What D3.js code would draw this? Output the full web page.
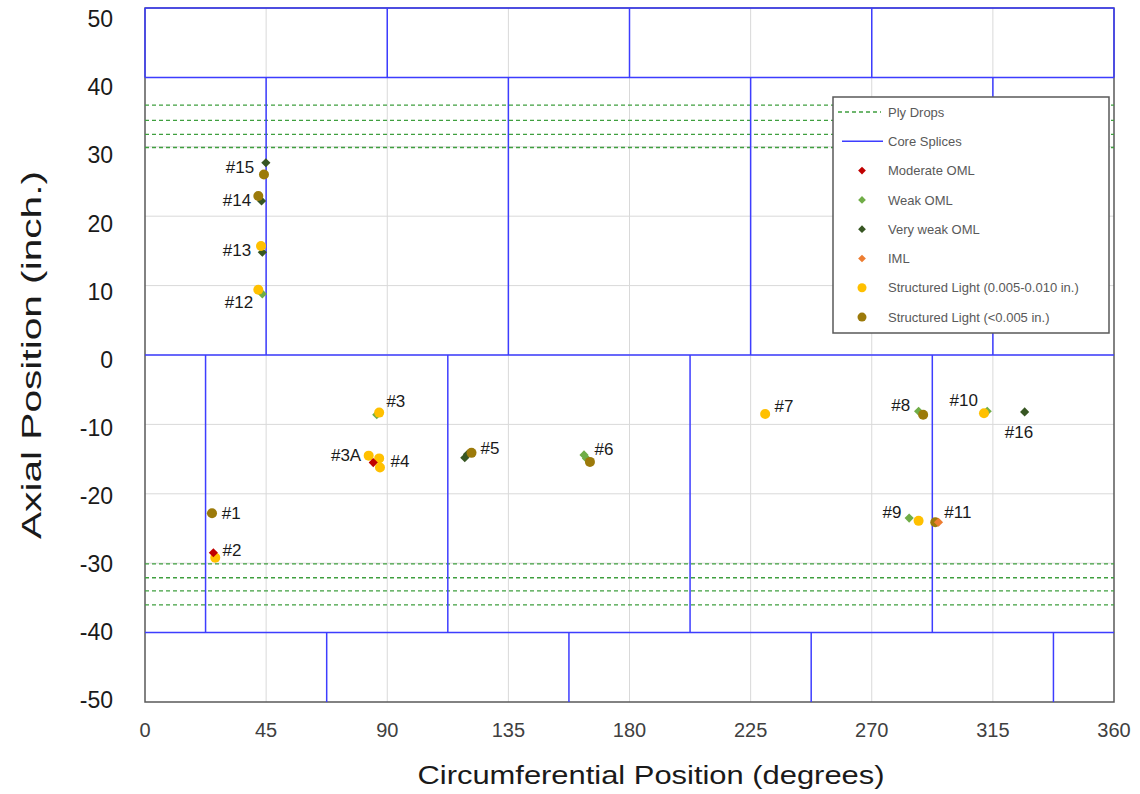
<!DOCTYPE html>
<html>
<head>
<meta charset="utf-8">
<script src="https://cdn.jsdelivr.net/npm/d3@7"></script>
<style>
  html, body { margin: 0; padding: 0; background: #fff; }
  svg { display: block; font-family: "Liberation Sans", Arial, sans-serif; }
</style>
</head>
<body>
<svg id="chart" width="1140" height="794"></svg>
<script>
// ---------- data ----------
const xTicks = [0, 45, 90, 135, 180, 225, 270, 315, 360];
const yTicks = [50, 40, 30, 20, 10, 0, -10, -20, -30, -40, -50];

const plyDrops = [36, 33.8, 31.8, 29.9, -30.1, -32.1, -34, -36];
const spliceAxial = [50, 40, 0, -40];
const spliceTopX = [0, 90, 180, 270, 360];       // 40..50
const spliceUpperX = [45, 135, 225, 315];        // 0..40
const spliceLowerX = [22.5, 112.5, 202.5, 292.5]; // -40..0
const spliceBottomX = [67.5, 157.5, 247.5, 337.5]; // -50..-40

const moderateOML = [[25.4, -28.5], [84.8, -15.5]];
const weakOML = [[43.6, 8.8], [24.5, -22.8], [86.1, -8.6], [163.1, -14.4], [164.0, -14.9], [287.4, -8.1], [312.9, -8.1], [283.9, -23.5]];
const veryWeakOML = [[44.9, 27.7], [43.3, 22.2], [43.6, 14.8], [118.8, -14.8], [119.8, -14.3], [326.8, -8.2]];
const imlPts = [[294.8, -24.1]];
const slMid = [[43.1, 15.7], [42.1, 9.4], [26.1, -29.2], [87.0, -8.3], [83.1, -14.5], [87.0, -14.9], [87.3, -16.2], [230.4, -8.5], [311.7, -8.4], [287.4, -23.9]];
const slLow = [[44.2, 26.0], [42.1, 22.9], [24.9, -22.8], [121.3, -14.1], [165.3, -15.4], [289.1, -8.6], [293.6, -24.1]];

const labelText = ["#15", "#14", "#13", "#12", "#1", "#2", "#3", "#3A", "#4", "#5", "#6", "#7", "#8", "#10", "#16", "#9", "#11"];
const labelPos = [[35.3, 27.1], [34.2, 22.3], [34.2, 15.1], [34.9, 7.6], [32.0, -22.8], [32.3, -28.1], [93.2, -6.6], [74.7, -14.4], [94.7, -15.3], [128.2, -13.4], [170.5, -13.5], [237.4, -7.3], [280.8, -7.2], [304.2, -6.5], [324.7, -11.1], [277.5, -22.6], [302.0, -22.6]];

const legendNames = ["Ply Drops", "Core Splices", "Moderate OML", "Weak OML", "Very weak OML", "IML", "Structured Light (0.005-0.010 in.)", "Structured Light (<0.005 in.)"];

// ---------- styles ----------
const C = {
  grid: "#d9d9d9", frame: "#595959", blue: "#3d3dff", ply: "#3f9f3f",
  moderate: "#c00000", weak: "#70ad47", veryWeak: "#375623", iml: "#ed7d31",
  slMid: "#ffc000", slLow: "#9c7a0a"
};

const svg = d3.select("#chart");
const x = d3.scaleLinear().domain([0, 360]).range([145, 1114]);
const y = d3.scaleLinear().domain([-50, 50]).range([702, 8]);
const yLab = d3.scaleLinear().domain([-50, 50]).range([700, 19]);

// grid
svg.append("g").selectAll("line").data(xTicks.slice(1, -1)).join("line")
  .attr("x1", d => x(d)).attr("x2", d => x(d)).attr("y1", y(50)).attr("y2", y(-50))
  .attr("stroke", C.grid).attr("stroke-width", 1);
svg.append("g").selectAll("line").data(yTicks.slice(1, -1)).join("line")
  .attr("y1", d => y(d)).attr("y2", d => y(d)).attr("x1", x(0)).attr("x2", x(360))
  .attr("stroke", C.grid).attr("stroke-width", 1);

// frame
svg.append("rect").attr("x", x(0)).attr("y", y(50)).attr("width", x(360) - x(0)).attr("height", y(-50) - y(50))
  .attr("fill", "none").attr("stroke", C.frame).attr("stroke-width", 1.5);

// ply drops
svg.append("g").selectAll("line").data(plyDrops).join("line")
  .attr("x1", x(0)).attr("x2", x(360)).attr("y1", d => y(d)).attr("y2", d => y(d))
  .attr("stroke", C.ply).attr("stroke-width", 1.3).attr("stroke-dasharray", "4,3");

// core splices
const sp = svg.append("g").attr("stroke", C.blue).attr("stroke-width", 1.5);
sp.selectAll(".h").data(spliceAxial).join("line").attr("class", "h")
  .attr("x1", x(0)).attr("x2", x(360)).attr("y1", d => y(d)).attr("y2", d => y(d));
function vlines(xs, a0, a1, cls) {
  sp.selectAll("." + cls).data(xs).join("line").attr("class", cls)
    .attr("x1", d => x(d)).attr("x2", d => x(d)).attr("y1", y(a0)).attr("y2", y(a1));
}
vlines(spliceTopX, 40, 50, "v1");
vlines(spliceUpperX, 0, 40, "v2");
vlines(spliceLowerX, -40, 0, "v3");
vlines(spliceBottomX, -50, -40, "v4");

// axis tick labels
svg.append("g").selectAll("text").data(yTicks).join("text")
  .attr("x", 113).attr("y", d => yLab(d)).attr("dy", "0.36em").attr("text-anchor", "end")
  .attr("font-size", 23).attr("fill", "#1a1a1a").text(d => d);
svg.append("g").selectAll("text").data(xTicks).join("text")
  .attr("x", d => x(d)).attr("y", 737).attr("text-anchor", "middle")
  .attr("font-size", 20).attr("fill", "#404040").text(d => d);

// axis titles
svg.append("text").attr("transform", "translate(41,355) rotate(-90)")
  .attr("text-anchor", "middle").attr("font-size", 27).attr("fill", "#1a1a1a")
  .attr("textLength", 368).attr("lengthAdjust", "spacingAndGlyphs")
  .text("Axial Position (inch.)");
svg.append("text").attr("x", 651).attr("y", 784)
  .attr("text-anchor", "middle").attr("font-size", 26).attr("fill", "#1a1a1a")
  .attr("textLength", 467).attr("lengthAdjust", "spacingAndGlyphs")
  .text("Circumferential Position (degrees)");

// points
function diamonds(data, color) {
  svg.append("g").selectAll("path").data(data).join("path")
    .attr("d", d3.symbol().type(d3.symbolSquare).size(42))
    .attr("transform", d => `translate(${x(d[0])},${y(d[1])}) rotate(45)`)
    .attr("fill", color);
}
function circles(data, color) {
  svg.append("g").selectAll("circle").data(data).join("circle")
    .attr("cx", d => x(d[0])).attr("cy", d => y(d[1])).attr("r", 5)
    .attr("fill", color);
}
diamonds(weakOML, C.weak);
diamonds(veryWeakOML, C.veryWeak);
circles(slLow, C.slLow);
circles(slMid, C.slMid);
diamonds(moderateOML, C.moderate);
diamonds(imlPts, C.iml);

// labels
svg.append("g").selectAll("text").data(labelText).join("text")
  .attr("x", (d, i) => x(labelPos[i][0])).attr("y", (d, i) => y(labelPos[i][1]))
  .attr("dy", "0.36em").attr("text-anchor", "middle")
  .attr("font-size", 17).attr("fill", "#1a1a1a").text(d => d);

// legend
const lg = svg.append("g");
lg.append("rect").attr("x", 833).attr("y", 97).attr("width", 276).attr("height", 236)
  .attr("fill", "#fff").attr("stroke", C.frame).attr("stroke-width", 1.5);
const rowY = i => 112 + i * 29.3;
lg.selectAll("text").data(legendNames).join("text")
  .attr("x", 888).attr("y", (d, i) => rowY(i)).attr("dy", "0.36em")
  .attr("font-size", 13).attr("fill", "#595959").text(d => d);
lg.append("line").attr("x1", 838).attr("x2", 881).attr("y1", rowY(0)).attr("y2", rowY(0))
  .attr("stroke", C.ply).attr("stroke-width", 1.3).attr("stroke-dasharray", "4,3");
lg.append("line").attr("x1", 842).attr("x2", 883).attr("y1", rowY(1)).attr("y2", rowY(1))
  .attr("stroke", C.blue).attr("stroke-width", 1.5);
const legMarkers = [["d", C.moderate], ["d", C.weak], ["d", C.veryWeak], ["d", C.iml], ["c", C.slMid], ["c", C.slLow]];
legMarkers.forEach((m, k) => {
  const yy = rowY(k + 2);
  if (m[0] === "d") {
    lg.append("path").attr("d", d3.symbol().type(d3.symbolSquare).size(30))
      .attr("transform", `translate(862,${yy}) rotate(45)`).attr("fill", m[1]);
  } else {
    lg.append("circle").attr("cx", 862).attr("cy", yy).attr("r", 4.5).attr("fill", m[1]);
  }
});
</script>
</body>
</html>
